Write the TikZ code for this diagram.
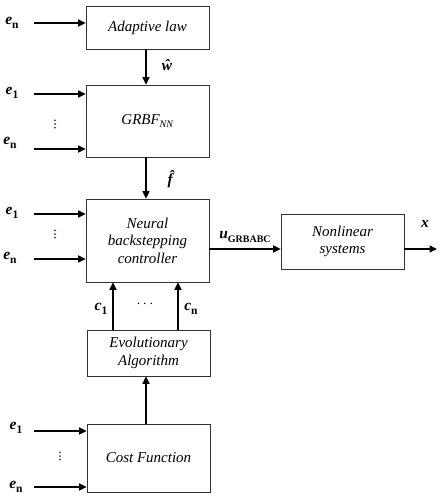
\documentclass[tikz,border=0pt]{standalone}
\usepackage{fontspec}
\setmainfont{Liberation Serif}
\usetikzlibrary{arrows.meta}
\definecolor{dotc}{RGB}{110,30,110}
\newcommand\bvar[2]{\textbf{\textit{#1}}\raisebox{-0.25em}{\fontsize{11.5}{12}\selectfont\textbf{#2}}}
\newcommand\bvars[2]{\textbf{\textit{#1}}\raisebox{-0.25em}{\fontsize{10}{11}\selectfont\textbf{#2}}}
\begin{document}
\begin{tikzpicture}[x=1pt,y=-1pt,
  blk/.style={draw=black!80,line width=0.7pt,fill=white,inner sep=0pt,font=\itshape\fontsize{15}{17.5}\selectfont,align=center},
  arr/.style={line width=1.3pt,-{Triangle[length=7.5pt,width=7pt]}},
  lab/.style={inner sep=0pt,font=\fontsize{15.5}{16}\selectfont},
  dt/.style={fill=dotc}]
\useasboundingbox (0,0) rectangle (443,497);
% boxes
\node[blk,minimum width=123pt,minimum height=43pt] (ad) at (147.5,27.5) {Adaptive law};
\node[blk,minimum width=123pt,minimum height=72pt] (gr) at (147.5,121) {GRBF\textsubscript{\fontsize{10}{11}\selectfont NN}};
\node[blk,minimum width=123pt,minimum height=83pt] (nb) at (147.5,240.5) {Neural\\backstepping\\controller};
\node[blk,minimum width=123pt,minimum height=55pt] (ns) at (342.5,241.5) {Nonlinear\\systems};
\node[blk,minimum width=123pt,minimum height=46pt] (ea) at (148.5,353) {Evolutionary\\Algorithm};
\node[blk,minimum width=123pt,minimum height=68pt] (cf) at (148.5,458) {Cost Function};
% coordinates
\coordinate (a1) at (34,23);
\coordinate (g1) at (34,94);
\coordinate (g2) at (34,149);
\coordinate (n1) at (34,214);
\coordinate (n2) at (34,259);
\coordinate (c1s) at (34,431);
\coordinate (c2s) at (34,487);
\coordinate (xo) at (437,249);
\coordinate (vm) at (146,0);
\coordinate (vl) at (113,0);
\coordinate (vr) at (178,0);
% input arrows
\draw[arr] (a1) -- (a1 -| ad.west);
\draw[arr] (g1) -- (g1 -| gr.west);
\draw[arr] (g2) -- (g2 -| gr.west);
\draw[arr] (n1) -- (n1 -| nb.west);
\draw[arr] (n2) -- (n2 -| nb.west);
\draw[arr] (c1s) -- (c1s -| cf.west);
\draw[arr] (c2s) -- (c2s -| cf.west);
% vertical arrows
\draw[arr] (vm |- ad.south) -- (vm |- gr.north);
\draw[arr] (vm |- gr.south) -- (vm |- nb.north);
\draw[arr] (vm |- cf.north) -- (vm |- ea.south);
\draw[arr] (vl |- ea.north) -- (vl |- nb.south);
\draw[arr] (vr |- ea.north) -- (vr |- nb.south);
\draw[arr] (nb.east |- xo) -- (ns.west |- xo);
\draw[arr] (ns.east |- xo) -- (xo);
% labels
\node[lab] (l1) at (12,23) {\bvar{e}{n}};
\node[lab] (l2) at (12,93) {\bvar{e}{1}};
\node[lab] (l3) at (10,143) {\bvar{e}{n}};
\node[lab] (l4) at (12,213) {\bvar{e}{1}};
\node[lab] (l5) at (10,258) {\bvar{e}{n}};
\node[lab] (l6) at (16,428) {\bvar{e}{1}};
\node[lab] (l7) at (16,487) {\bvar{e}{n}};
% vertical dots
\foreach \px/\py in {55/124, 55/234, 60/456}{
  \foreach \dy in {-3.7,0,3.7} \fill[dt] (\px,\py+\dy) circle (1pt);
}
\node[lab] (w) at (167,65) {\textbf{\textit{\^{w}}}};
\node[lab] (f) at (172,179) {\textbf{\textit{\^{f}}}};
\node[lab] (u) at (245,237) {\bvars{u}{GRBABC}};
\node[lab] (x) at (425,224) {\textbf{\textit{x}}};
\node[lab] (c1) at (101,309) {\bvar{c}{1}};
\node[lab] (cn) at (191,309) {\bvar{c}{n}};
\node[lab] (cd) at (145,304) {$\cdots$};
\end{tikzpicture}
\end{document}
